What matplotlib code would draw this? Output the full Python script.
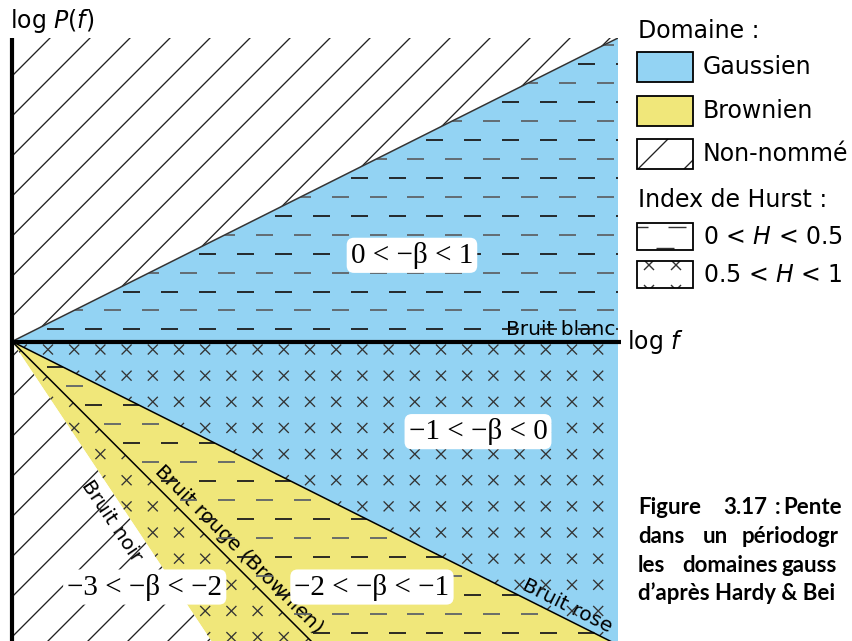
import numpy as np
import matplotlib
matplotlib.use('Agg')
import matplotlib.pyplot as plt
from matplotlib.patches import Polygon, Rectangle
from matplotlib.collections import LineCollection

# pentes (-beta) des droites qui separent les zones, de haut en bas
slopes = [1, 0, -1, -2, -3]
# zones entre deux droites (la premiere et la derniere touchent l'axe vertical)
zone_labels = ['', '0 < −β < 1', '−1 < −β < 0', '−2 < −β < −1', '−3 < −β < −2', '']
zone_domain = ['Non-nommé', 'Gaussien', 'Gaussien', 'Brownien', 'Brownien', 'Non-nommé']
zone_hurst = ['', 'low', 'high', 'low', 'high', '']
zone_label_pos = [None, (0.660, 0.284), (0.769, -0.297), (0.594, -0.809), (0.219, -0.809), None]

noise_names = ['Bruit blanc', 'Bruit rose', 'Bruit rouge (Brownien)', 'Bruit noir']
noise_slopes = [0, -1, -2, -3]

domain_names = ['Gaussien', 'Brownien', 'Non-nommé']
hurst_names = ['0 < $H$ < 0.5', '0.5 < $H$ < 1']
# legende de figure, coupee au bord droit comme dans l'original
caption = [['Figure', '3.17', ':', 'Pente'],
           ['dans', 'un', 'périodogr'],
           ['les', 'domaines', 'gauss'],
           ['d’après Hardy & Bei']]

colors = {'Gaussien': '#93D3F3', 'Brownien': '#F0E77A', 'Non-nommé': 'white'}

# geometrie en pixels
W, H = 853, 641
X0, Y0 = 12, 342          # origine
SX, SY = 606, 303         # pixels par unite de log f / log P
YBOT = -(H - Y0) / SY


def to_data(segs):
    segs = np.asarray(segs, dtype=float)
    out = segs.copy()
    out[..., 0] = (segs[..., 0] - X0) / SX
    out[..., 1] = (Y0 - segs[..., 1]) / SY
    return out


def slash_segs(c_list, x_lo, x_hi):
    return [[(x_lo, c - x_lo), (x_hi, c - x_hi)] for c in c_list]


def dash_segs(rows, start, step, length, x_lo, x_hi):
    segs = []
    for y in rows:
        x = start
        while x > x_lo:
            x -= step
        while x < x_hi:
            segs.append([(x, y), (x + length, y)])
            x += step
    return segs


def cross_segs(xs, ys, h):
    segs = []
    for y in ys:
        for x in xs:
            segs.append([(x - h, y - h), (x + h, y + h)])
            segs.append([(x - h, y + h), (x + h, y - h)])
    return segs


fig = plt.figure(figsize=(W / 100, H / 100), dpi=100)
ax = fig.add_axes([X0 / W, 0, SX / W, (H - 38) / H])
ax.set_xlim(0, 1)
ax.set_ylim(YBOT, 1)
ax.axis('off')

# hachures du diagramme (en pixels)
n_rows = np.arange(0, 34)
dash_rows = 46 + 18.93 * n_rows
cross_x = 21.8 + 26.2 * np.arange(0, 25)
cross_y = 350 + 26.1 * np.arange(0, 12)
slash_c = 9 + 40 * np.arange(0, 33)

bounds = [None] + slopes + [None]
R = 20
for i, dom in enumerate(zone_domain):
    hi, lo = bounds[i], bounds[i + 1]
    p_hi = (0, R) if hi is None else (R, hi * R)
    p_lo = (0, -R) if lo is None else (R, lo * R)
    poly = Polygon([(0, 0), p_lo, p_hi], closed=True, fc=colors[dom], ec='none', zorder=1)
    ax.add_patch(poly)

    if dom == 'Non-nommé':
        lcs = [LineCollection(to_data(slash_segs(slash_c, 0, 640)), colors='#222222', lw=0.95)]
    elif zone_hurst[i] == 'low':
        even = dash_segs(dash_rows[::2], 28.5, 37.9, 17, 0, 640)
        odd = dash_segs(dash_rows[1::2], 9.55, 37.9, 17, 0, 640)
        lcs = [LineCollection(to_data(even), colors='#5e6468', lw=1.3),
               LineCollection(to_data(odd), colors='#1c1c1c', lw=1.3)]
    else:
        lcs = [LineCollection(to_data(cross_segs(cross_x, cross_y, 5)), colors='#333333', lw=0.95)]
    for lc in lcs:
        lc.set_zorder(2)
        ax.add_collection(lc)
        lc.set_clip_path(poly)

    if zone_labels[i]:
        ax.text(*zone_label_pos[i], zone_labels[i], fontsize=21, family='Liberation Serif',
                ha='center', va='center', zorder=3,
                bbox=dict(boxstyle='round,pad=0.14,rounding_size=0.25', fc='white', ec='none'))

# droites de separation
xs = np.array([0, 1.2])
for s in slopes:
    if s == 0 or s == -3:
        continue
    ax.plot(xs, s * xs, color='#333333' if s > 0 else 'black', lw=1.1, zorder=2.5)

# noms des bruits
noise_pos = [(0.995, 0.02), (0.917, -0.871), (0.375, -0.686), (0.165, -0.591)]
for name, s, (px, py) in zip(noise_names, noise_slopes, noise_pos):
    ang = np.degrees(np.arctan(s * SY / SX))
    if s == 0:
        ax.text(px, py, name, fontsize=14.5, ha='right', va='baseline', zorder=1.5)
    else:
        ax.text(px, py, name, fontsize=14.5, ha='center', va='center', rotation=ang,
                rotation_mode='anchor', zorder=1.5)

# axes
ax.plot([0, 0], [YBOT, 1], color='black', lw=3, clip_on=False, zorder=4, solid_capstyle='butt')
ax.plot([0, 1.005], [0, 0], color='black', lw=3, clip_on=False, zorder=4, solid_capstyle='butt')

# calque en pixels pour la legende et les textes
lax = fig.add_axes([0, 0, 1, 1])
lax.set_xlim(0, W)
lax.set_ylim(H, 0)
lax.axis('off')

lax.text(10, 21, 'log $P(f)$', fontsize=17, va='center')
lax.text(627, 342, 'log $f$', fontsize=17, va='center')

lax.text(638, 31, 'Domaine :', fontsize=17, va='center')
dom_tops = [52, 95.5, 139]
for name, top in zip(domain_names, dom_tops):
    box = Rectangle((637, top), 56, 30, fc=colors[name], ec='black', lw=1.3, zorder=3)
    lax.add_patch(box)
    lax.text(703, top + 15, name, fontsize=17, va='center')
    if name == 'Non-nommé':
        lc = LineCollection(slash_segs([807, 853], 630, 700), colors='#222222', lw=0.95, zorder=2)
        lax.add_collection(lc)
        lc.set_clip_path(box)
        box.set_facecolor('none')

lax.text(638, 200, 'Index de Hurst :', fontsize=17, va='center')
hurst_tops = [223, 261]
for k, (name, top) in enumerate(zip(hurst_names, hurst_tops)):
    box = Rectangle((637, top), 56, 27, fc='none', ec='black', lw=1.3, zorder=3)
    lax.add_patch(box)
    lax.text(703, top + 13.5, name, fontsize=17, va='center')
    if k == 0:
        segs = dash_segs([top + 4], 630, 38, 18, 600, 700) + dash_segs([top + 25], 656, 38, 18, 600, 700)
    else:
        segs = cross_segs([649, 676], [top + 4, top + 29], 5)
    lc = LineCollection(segs, colors='#333333', lw=1.0, zorder=2)
    lax.add_collection(lc)
    lc.set_clip_path(box)

# legende de figure
baselines = [514, 543, 572, 600]
word_x = [[638, 723, 775, 783], [638, 703, 742], [638, 682, 782], [638]]
for words, xw, yb in zip(caption, word_x, baselines):
    for w, x in zip(words, xw):
        lax.text(x, yb, w, fontsize=16, family='Lato', fontweight='bold', va='baseline')

fig.savefig('out.png', dpi=100)
